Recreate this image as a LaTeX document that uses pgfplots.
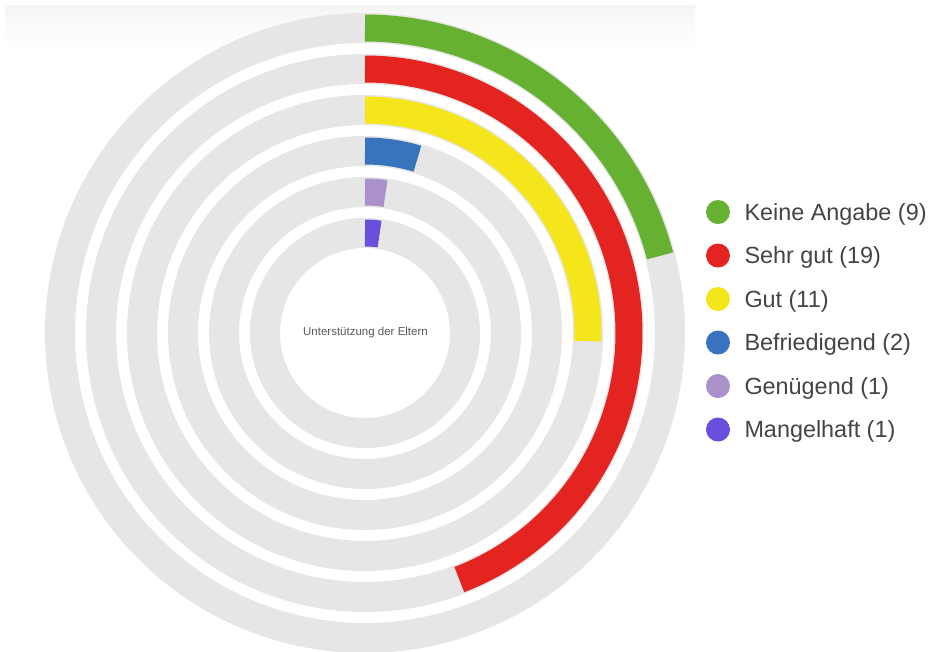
\documentclass[border=0pt]{standalone}
\usepackage{pgfplots}
\pgfplotsset{compat=1.18}
\usepgfplotslibrary{polar}
\usepackage{fontspec}
\setmainfont{Liberation Sans}
\definecolor{cK}{HTML}{66B032}
\definecolor{cS}{HTML}{E42421}
\definecolor{cG}{HTML}{F5E61C}
\definecolor{cB}{HTML}{3874BD}
\definecolor{cN}{HTML}{AB91C9}
\definecolor{cM}{HTML}{6A4FDC}
\definecolor{track}{HTML}{E6E6E6}
\definecolor{txt}{HTML}{444444}
\begin{document}
\begin{tikzpicture}
\useasboundingbox (0,0) rectangle (934pt,651pt);
\fill[white] (0,0) rectangle (934pt,651pt);
\shade[top color=black!4, bottom color=white] (5pt,645pt) rectangle (695pt,605pt);
\begin{polaraxis}[
  at={(365pt,318pt)}, anchor=center,
  hide axis, scale only axis, width=640pt, height=640pt,
  xmin=0, xmax=360, ymin=0, ymax=320, clip=false,
  legend cell align=left,
  legend image code/.code={\fill[#1, draw=none, line width=0pt] (12pt,0pt) circle[radius=12pt];},
  legend style={draw=none, fill=none, at={(1.0328,0.7078)}, anchor=north west,
    inner sep=0pt, outer sep=0pt, font=\fontsize{23.4}{27}\selectfont, text=txt,
    row sep=19.5pt, nodes={inner sep=0pt, text height=16.8pt, text depth=0pt},
    /tikz/every odd column/.append style={column sep=14.5pt}},
]
% background tracks
\addplot[forget plot, no markers, color=track, line width=30pt, domain=0:360, samples=361] {305};
\addplot[forget plot, no markers, color=track, line width=30pt, domain=0:360, samples=361] {264};
\addplot[forget plot, no markers, color=track, line width=30pt, domain=0:360, samples=361] {223};
\addplot[forget plot, no markers, color=track, line width=30pt, domain=0:360, samples=361] {182};
\addplot[forget plot, no markers, color=track, line width=30pt, domain=0:360, samples=361] {141};
\addplot[forget plot, no markers, color=track, line width=30pt, domain=0:360, samples=361] {100};
% values (out of 43 answers)
\addplot[no markers, color=cK, line width=27pt, domain=90-360*9/43:90, samples=120] {305};
\addlegendentry{Keine Angabe (9)}
\addplot[no markers, color=cS, line width=27pt, domain=90-360*19/43:90, samples=200] {264};
\addlegendentry{Sehr gut (19)}
\addplot[no markers, color=cG, line width=27pt, domain=90-360*11/43:90, samples=140] {223};
\addlegendentry{Gut (11)}
\addplot[no markers, color=cB, line width=27pt, domain=90-360*2/43:90, samples=40] {182};
\addlegendentry{Befriedigend (2)}
\addplot[no markers, color=cN, line width=27pt, domain=90-360*1/43:90, samples=20] {141};
\addlegendentry{Genügend (1)}
\addplot[no markers, color=cM, line width=27pt, domain=90-360*1/43:90, samples=20] {100};
\addlegendentry{Mangelhaft (1)}
\end{polaraxis}
\node[font=\fontsize{11.5}{13}\selectfont, text=black!65] at (365.5pt,318pt) {Unterstützung der Eltern};
\end{tikzpicture}
\end{document}
